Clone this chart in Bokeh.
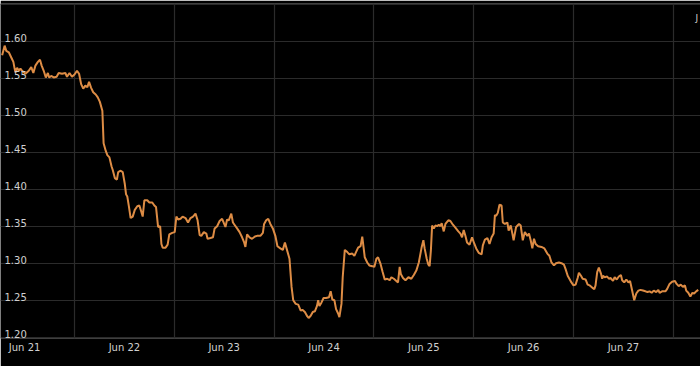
from bokeh.plotting import figure
from bokeh.models import FixedTicker, Grid, Range1d, ColumnDataSource
from bokeh.core.properties import value
from bokeh.embed import file_html
from bokeh.resources import INLINE

# hours since Jun 21 00:00
hours = [6.6, 7.2, 7.6, 8.2, 8.8, 9.3, 9.6, 9.8, 10.2, 10.6, 11.0, 11.4, 12.2, 13.0, 13.6, 14.1,
         14.6, 15.2, 15.7, 16.1, 16.6, 17.1, 17.6, 17.9, 18.4, 19.0, 19.7, 20.2, 21.0, 21.8, 22.2,
         22.8, 23.4, 24.0, 24.6, 25.1, 25.6, 26.1, 26.6, 27.1, 27.5, 28.0, 28.5, 29.1, 29.6, 30.1,
         30.7, 31.0, 31.5, 31.9, 32.4, 32.9, 33.2, 33.7, 34.2, 34.5, 35.1, 35.6, 36.1, 36.4, 36.7,
         37.1, 37.5, 38.0, 38.5, 39.1, 39.6, 40.1, 40.4, 40.8, 41.5, 42.0, 42.7, 43.2, 43.6, 44.1,
         44.6, 44.9, 45.2, 45.9, 46.4, 46.8, 47.5, 48.1, 48.5, 48.9, 49.5, 50.0, 50.7, 51.3, 51.9,
         52.5, 53.1, 53.6, 54.1, 54.5, 55.1, 55.7, 56.0, 56.7, 57.3, 57.7, 58.3, 58.9, 59.5, 60.0,
         60.3, 60.7, 61.1, 61.7, 62.1, 62.6, 63.1, 63.7, 64.3, 64.8, 65.1, 65.5, 66.1, 66.7, 67.4,
         67.9, 68.7, 69.3, 69.6, 70.1, 70.6, 71.1, 71.7, 72.3, 72.8, 73.5, 74.1, 74.6, 75.2, 75.7,
         76.2, 76.6, 77.2, 77.8, 78.4, 78.8, 79.4, 80.0, 80.3, 80.8, 81.3, 81.8, 82.3, 82.6, 82.9,
         83.4, 83.9, 84.5, 85.2, 85.6, 86.0, 86.5, 86.9, 87.4, 87.7, 88.2, 88.5, 89.0, 89.6, 90.1,
         90.8, 91.3, 91.7, 92.2, 92.8, 93.2, 93.5, 93.8, 94.4, 94.9, 95.6, 96.1, 96.6, 97.0, 97.6,
         98.1, 98.6, 99.2, 99.8, 100.2, 100.8, 101.4, 101.8, 102.2, 102.5, 103.0, 103.6, 104.3,
         105.0, 105.6, 106.2, 106.8, 107.5, 107.9, 108.2, 108.7, 109.1, 109.4, 109.7, 110.0, 110.4,
         110.8, 111.2, 111.6, 112.0, 112.3, 112.8, 113.2, 113.9, 114.4, 115.0, 115.6, 116.3, 116.8,
         117.2, 117.6, 118.0, 118.4, 119.0, 119.6, 120.1, 120.6, 121.2, 121.9, 122.2, 122.7, 123.3,
         123.8, 124.3, 124.8, 125.1, 125.4, 125.8, 126.2, 126.7, 127.0, 127.5, 128.1, 128.4, 128.9,
         129.3, 129.6, 130.2, 130.9, 131.3, 131.8, 132.3, 132.9, 133.3, 133.7, 134.1, 134.5, 134.9,
         135.5, 136.3, 137.0, 137.7, 138.2, 138.7, 139.3, 139.8, 140.5, 141.1, 141.7, 142.1, 142.6,
         143.0, 143.5, 144.0, 144.5, 145.0, 145.3, 145.8, 146.2, 146.9, 147.4, 147.9, 148.5, 149.0,
         149.3, 149.7, 150.1, 150.6, 150.9, 151.1, 151.5, 152.1, 152.5, 152.9, 153.5, 153.9, 154.4,
         154.9, 155.4, 155.7, 156.2, 156.7, 157.2, 157.6, 158.1, 158.6, 159.1, 159.6, 160.1, 160.7,
         161.3, 161.8, 162.3, 162.8, 163.3, 163.9, 164.4, 164.7, 165.3, 166.1, 166.5, 167.1, 167.7,
         168.4, 168.8, 169.3, 169.8, 170.3, 170.8, 171.1, 171.6, 172.1, 172.6, 173.0, 173.5, 174.0]

rate = [1.581, 1.594, 1.587, 1.585, 1.578, 1.572, 1.563, 1.558, 1.564, 1.560, 1.563, 1.560, 1.556,
        1.560, 1.565, 1.557, 1.567, 1.572, 1.575, 1.567, 1.560, 1.551, 1.557, 1.551, 1.553, 1.551,
        1.552, 1.557, 1.556, 1.557, 1.552, 1.557, 1.552, 1.555, 1.560, 1.556, 1.542, 1.536, 1.540,
        1.538, 1.545, 1.537, 1.531, 1.528, 1.524, 1.518, 1.506, 1.462, 1.452, 1.446, 1.443, 1.431,
        1.426, 1.415, 1.413, 1.423, 1.425, 1.423, 1.407, 1.393, 1.390, 1.376, 1.361, 1.363, 1.372,
        1.377, 1.378, 1.369, 1.363, 1.385, 1.385, 1.382, 1.382, 1.378, 1.376, 1.349, 1.350, 1.326,
        1.321, 1.321, 1.325, 1.339, 1.341, 1.342, 1.363, 1.359, 1.360, 1.363, 1.361, 1.355, 1.361,
        1.363, 1.367, 1.358, 1.338, 1.337, 1.342, 1.340, 1.333, 1.334, 1.335, 1.347, 1.350, 1.357,
        1.360, 1.353, 1.349, 1.359, 1.358, 1.367, 1.355, 1.351, 1.347, 1.342, 1.335, 1.328, 1.322,
        1.339, 1.335, 1.333, 1.336, 1.337, 1.337, 1.341, 1.353, 1.358, 1.360, 1.353, 1.347, 1.337,
        1.323, 1.320, 1.318, 1.328, 1.316, 1.306, 1.268, 1.250, 1.245, 1.244, 1.236, 1.237, 1.234,
        1.228, 1.226, 1.229, 1.234, 1.235, 1.242, 1.250, 1.242, 1.247, 1.253, 1.253, 1.254, 1.262,
        1.251, 1.250, 1.238, 1.232, 1.227, 1.245, 1.281, 1.318, 1.315, 1.312, 1.313, 1.310, 1.315,
        1.321, 1.323, 1.336, 1.322, 1.308, 1.301, 1.297, 1.296, 1.295, 1.306, 1.308, 1.299, 1.288,
        1.278, 1.279, 1.277, 1.281, 1.279, 1.276, 1.274, 1.295, 1.285, 1.280, 1.277, 1.281, 1.279,
        1.284, 1.290, 1.301, 1.322, 1.331, 1.320, 1.306, 1.298, 1.296, 1.317, 1.351, 1.347, 1.351,
        1.350, 1.352, 1.350, 1.354, 1.343, 1.353, 1.358, 1.357, 1.352, 1.348, 1.343, 1.340, 1.335,
        1.345, 1.337, 1.328, 1.325, 1.335, 1.327, 1.320, 1.314, 1.312, 1.324, 1.332, 1.334, 1.326,
        1.335, 1.340, 1.365, 1.364, 1.368, 1.379, 1.378, 1.355, 1.353, 1.355, 1.344, 1.351, 1.340,
        1.331, 1.349, 1.353, 1.351, 1.331, 1.342, 1.337, 1.340, 1.331, 1.320, 1.333, 1.326, 1.323,
        1.322, 1.320, 1.313, 1.310, 1.301, 1.297, 1.300, 1.301, 1.300, 1.298, 1.292, 1.283, 1.279,
        1.274, 1.270, 1.271, 1.280, 1.287, 1.283, 1.279, 1.278, 1.271, 1.270, 1.267, 1.265, 1.270,
        1.288, 1.294, 1.286, 1.279, 1.283, 1.281, 1.282, 1.279, 1.280, 1.276, 1.281, 1.278, 1.282,
        1.284, 1.277, 1.274, 1.278, 1.274, 1.276, 1.263, 1.250, 1.259, 1.263, 1.264, 1.263, 1.262,
        1.261, 1.262, 1.260, 1.263, 1.261, 1.264, 1.260, 1.262, 1.262, 1.265, 1.272, 1.275, 1.276,
        1.272, 1.269, 1.271, 1.268, 1.270, 1.263, 1.260, 1.255, 1.260, 1.259, 1.262, 1.264]

day_label_hours = [12, 36, 60, 84, 108, 132, 156]
day_labels = ["Jun 21", "Jun 22", "Jun 23", "Jun 24", "Jun 25", "Jun 26", "Jun 27"]
midnight_hours = [24, 48, 72, 96, 120, 144, 168]
y_ticks = [1.20, 1.25, 1.30, 1.35, 1.40, 1.45, 1.50, 1.55, 1.60, 1.65]
y_labels = ["1.20", "1.25", "1.30", "1.35", "1.40", "1.45", "1.50", "1.55", "1.60"]
corner_label = "J"

X0, X1 = 6.205, 174.54
Y0, Y1 = 1.19824, 1.65095

p = figure(width=700, height=366, output_backend="svg", toolbar_location=None,
           x_range=Range1d(X0, X1), y_range=Range1d(Y0, Y1),
           y_axis_location=None, min_border_top=3, min_border_bottom=28,
           min_border_left=0, min_border_right=0)
p.background_fill_color = "#000000"
p.border_fill_color = "#000000"
p.outline_line_color = None

p.xaxis.ticker = FixedTicker(ticks=day_label_hours)
p.xaxis.major_label_overrides = {h: l for h, l in zip(day_label_hours, day_labels)}
p.xaxis.axis_line_color = None
p.xaxis.major_tick_line_color = None
p.xaxis.minor_tick_line_color = None
p.xaxis.major_tick_out = 0
p.xaxis.major_label_standoff = 3
p.xaxis.major_label_text_font = "DejaVu Sans"
p.xaxis.major_label_text_font_size = "10px"
p.xaxis.major_label_text_color = "#d0d0d0"

p.xgrid.ticker = FixedTicker(ticks=midnight_hours)
p.xgrid.grid_line_color = "#2b2b2b"
p.xgrid.grid_line_width = 1.2

yg = Grid(dimension=1, ticker=FixedTicker(ticks=y_ticks),
          grid_line_color="#2b2b2b", grid_line_width=1.2)
p.add_layout(yg, "center")

p.line(hours, rate, line_color="#dd8c45", line_width=2)

src = ColumnDataSource(dict(x=[X0] * len(y_labels), y=[float(s) for s in y_labels], t=y_labels))
p.text(x="x", y="y", text="t", source=src, x_offset=4, y_offset=-3,
       text_font=value("DejaVu Sans"), text_font_size="10px", text_color="#d0d0d0",
       text_align="left", text_baseline="alphabetic")

p.text(x=[X1], y=[1.632], text=[corner_label], x_offset=-5,
       text_font=value("DejaVu Sans"), text_font_size="9px", text_color="#d0d0d0",
       text_align="left", text_baseline="alphabetic")

open("out.html", "w").write(file_html(p, INLINE))
